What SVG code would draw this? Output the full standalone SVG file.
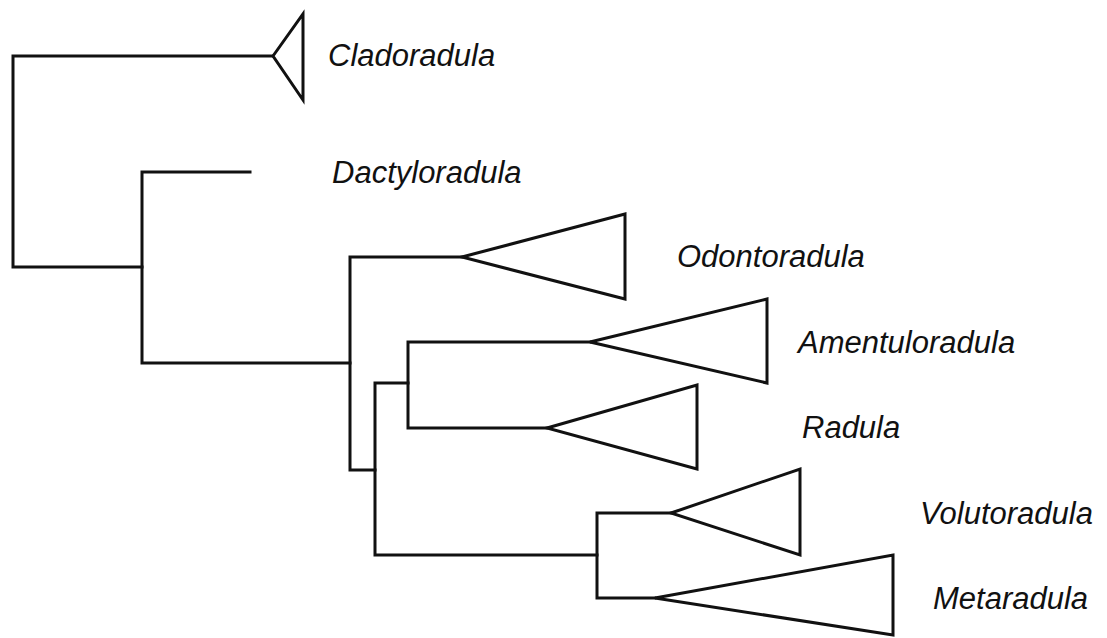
<svg xmlns="http://www.w3.org/2000/svg" width="1107" height="638" viewBox="0 0 1107 638">
<style>
.br{fill:none;stroke:#111;stroke-width:3;stroke-linejoin:miter;stroke-linecap:square}
.tri{fill:#fff;stroke:#111;stroke-width:3;stroke-linejoin:miter}
.lb{font-family:"Liberation Sans",Arial,sans-serif;font-style:italic;font-size:31px;fill:#111}
</style>
<rect width="1107" height="638" fill="#fff"/>
<g id="connectors">
<path class="br" d="M273,56 H13 V267 H142"/>
<path class="br" d="M250,172 H142 V363 H350"/>
<path class="br" d="M462,257 H350 V470 H375"/>
<path class="br" d="M408,383 H375 V555 H597"/>
<path class="br" d="M590,342 H408 V428 H547"/>
<path class="br" d="M671,513 H597 V598 H655"/>
</g>
<g id="cladoradula"><polygon class="tri" points="273,56 303,14 303,100"/><text class="lb" x="328" y="66">Cladoradula</text></g>
<g id="dactyloradula"><text class="lb" x="332" y="183">Dactyloradula</text></g>
<g id="odontoradula"><polygon class="tri" points="462,257 625,214 625,299"/><text class="lb" x="677" y="267">Odontoradula</text></g>
<g id="amentuloradula"><polygon class="tri" points="590,342 767,299 767,383"/><text class="lb" x="798" y="353">Amentuloradula</text></g>
<g id="radula"><polygon class="tri" points="547,428 697,385 697,469"/><text class="lb" x="802" y="438">Radula</text></g>
<g id="volutoradula"><polygon class="tri" points="671,513 800,469 800,555"/><text class="lb" x="920" y="524">Volutoradula</text></g>
<g id="metaradula"><polygon class="tri" points="655,598 893,555 893,635"/><text class="lb" x="933" y="609">Metaradula</text></g>
</svg>
